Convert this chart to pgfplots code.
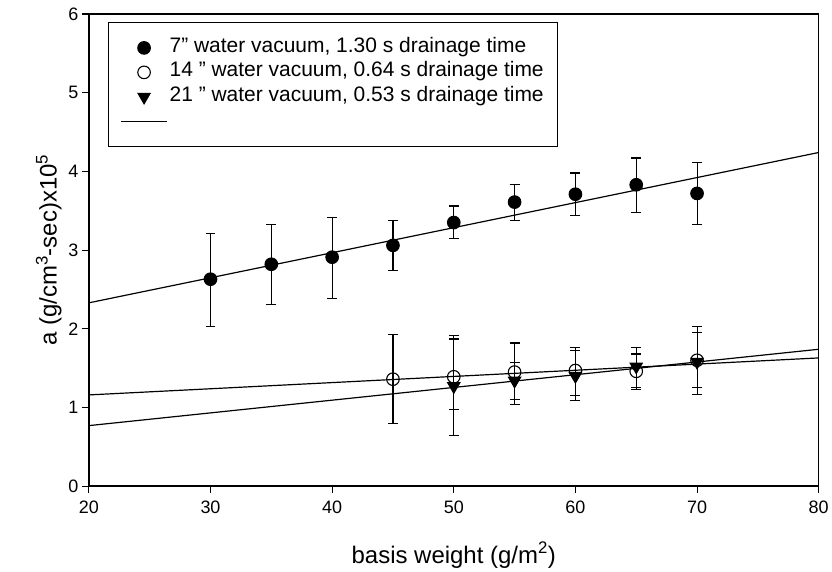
\documentclass[border=0pt]{standalone}
\usepackage{fontspec}
\setmainfont{Liberation Sans}
\usepackage{pgfplots}
\pgfplotsset{compat=1.18}
\usepackage{pgfplotstable}
\pgfplotsset{
  longline/.style={legend image code/.code={\draw[##1] (0pt,0pt) -- (46pt,0pt);}},
  midmark/.style={legend image code/.code={\path[draw=none, fill=none] (0pt,0pt) -- (46pt,0pt); \draw[##1] plot coordinates {(23pt,0pt)};}},
}
\pgfplotstableread{
x y ep em
30 2.63 0.58 0.60
35 2.82 0.50 0.51
40 2.91 0.50 0.52
45 3.06 0.32 0.32
50 3.35 0.21 0.20
55 3.61 0.22 0.23
60 3.71 0.27 0.27
65 3.83 0.34 0.35
70 3.72 0.39 0.39
}\seven
\pgfplotstableread{
x y ep em
45 1.36 0.57 0.56
50 1.39 0.48 0.41
55 1.45 0.37 0.35
60 1.47 0.29 0.32
65 1.46 0.22 0.20
70 1.60 0.43 0.43
}\fourteen
\pgfplotstableread{
x y ep em
50 1.27 0.65 0.63
55 1.34 0.23 0.30
60 1.40 0.32 0.31
65 1.52 0.24 0.29
70 1.58 0.37 0.32
}\twentyone
\begin{document}
\begin{tikzpicture}
\begin{axis}[
  scale only axis, width=731pt, height=473pt,
  xmin=20, xmax=80, ymin=0, ymax=6,
  xtick={20,30,...,80}, ytick={0,1,...,6},
  tick align=outside, tick pos=left,
  major tick length=7pt,
  axis line style={line width=1.5pt},
  tick style={line width=1.1pt, black},
  /pgf/number format/assume math mode=true,
  tick label style={font=\fontsize{18}{21}\selectfont},
  xticklabel style={yshift=-4pt},
  label style={font=\fontsize{24}{28}\selectfont},
  xlabel={basis weight (g/m\textsuperscript{2})},
  ylabel={a (g/cm\textsuperscript{3}-sec)x10\textsuperscript{5}},
  xlabel style={yshift=-22pt},
  legend style={at={(0.026,0.983)}, anchor=north west, draw=black, line width=1.4pt,
    font=\fontsize{21}{24}\selectfont, inner xsep=12pt, inner ysep=13pt,
    row sep=0pt,
    nodes={inner xsep=2pt, inner ysep=0pt, text height=16.5pt, text depth=8pt}},
  legend cell align=left,
  every axis plot/.append style={line width=1.1pt},
  error bars/error bar style={line width=1.1pt},
  error bars/error mark=-,
  error bars/error mark options={rotate=90, mark size=5pt, line width=1.1pt},
]
\addplot[only marks, mark=*, mark size=6.3pt, mark options={fill=black, draw=black}, midmark,
  error bars/.cd, y dir=both, y explicit]
  table[x=x, y=y, y error plus=ep, y error minus=em] {\seven};
\addlegendentry{7" water vacuum, 1.30 s drainage time}
\addplot[only marks, mark=o, mark size=6.3pt, mark options={fill=white, draw=black, line width=1.1pt}, midmark,
  error bars/.cd, y dir=both, y explicit]
  table[x=x, y=y, y error plus=ep, y error minus=em] {\fourteen};
\addlegendentry{14 " water vacuum, 0.64 s drainage time}
\addplot[only marks, mark=triangle*, mark size=7pt, mark options={fill=black, draw=black, rotate=180}, midmark,
  error bars/.cd, y dir=both, y explicit]
  table[x=x, y=y, y error plus=ep, y error minus=em] {\twentyone};
\addlegendentry{21 " water vacuum, 0.53 s drainage time}
\addplot[black, line width=1.2pt, no marks, longline] coordinates {(20,2.33) (80,4.24)};
\addlegendentry{}
\addplot[black, line width=1.2pt, no marks, forget plot] coordinates {(20,1.16) (80,1.63)};
\addplot[black, line width=1.2pt, no marks, forget plot] coordinates {(20,0.77) (80,1.74)};
\end{axis}
\path ([xshift=-89pt,yshift=-82pt]current axis.south west) rectangle ([xshift=12pt,yshift=14pt]current axis.north east);
\end{tikzpicture}
\end{document}
